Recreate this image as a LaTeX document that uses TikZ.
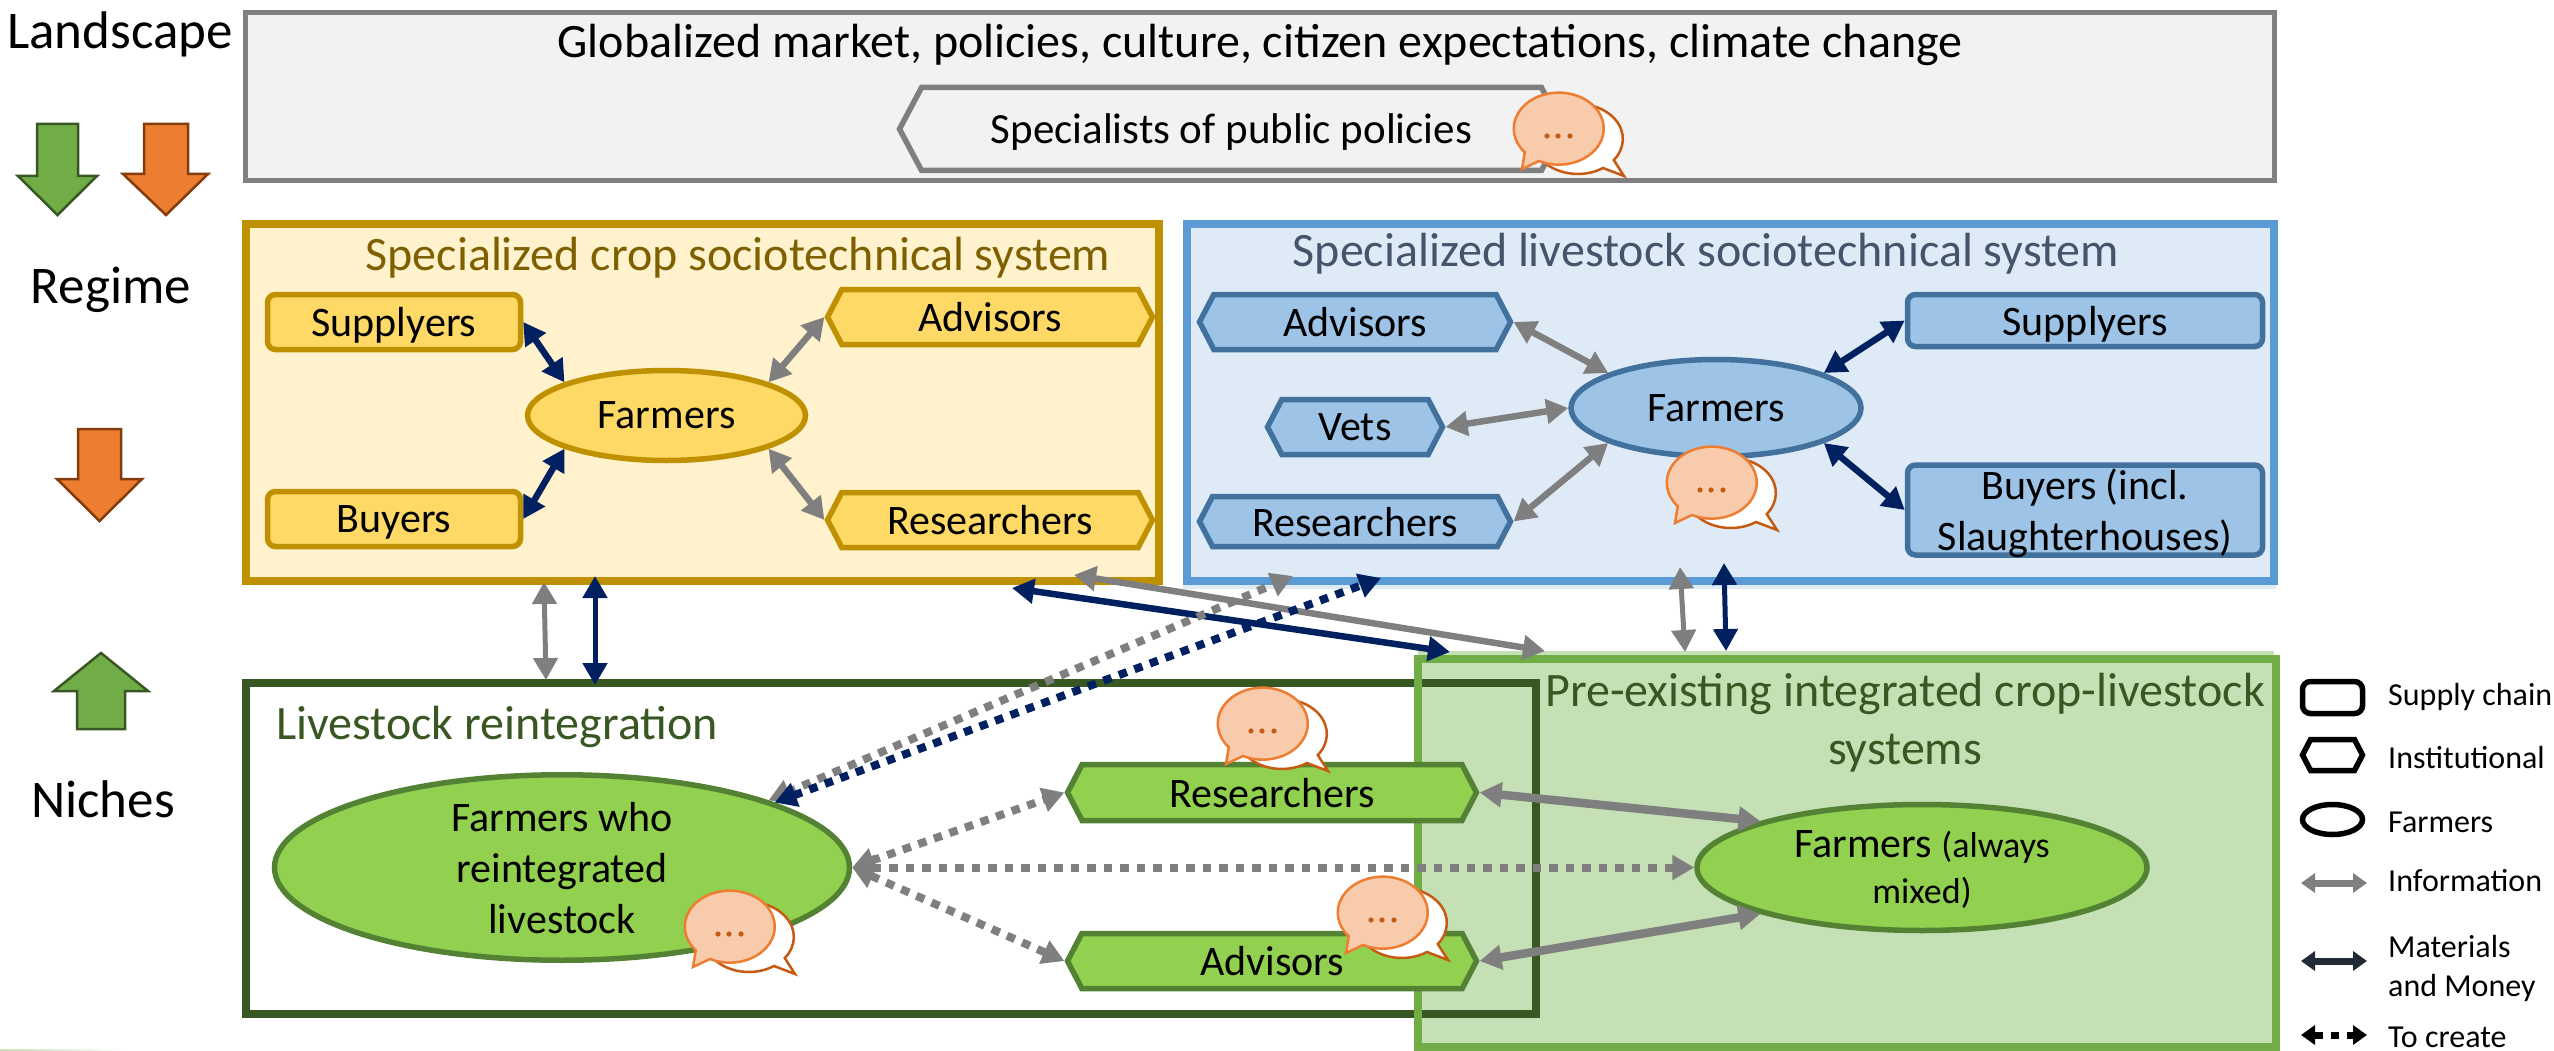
\documentclass[tikz,border=0pt]{standalone}
\usepackage{fontspec}
\setmainfont{Carlito}
\usetikzlibrary{arrows.meta,shapes.geometric,shapes.symbols}
\definecolor{cropline}{HTML}{BF9000}
\definecolor{cropfill}{HTML}{FFF2CC}
\definecolor{cropnode}{HTML}{FFD966}
\definecolor{croptext}{HTML}{7F6000}
\definecolor{liveline}{HTML}{5B9BD5}
\definecolor{livefill}{HTML}{DEEBF7}
\definecolor{livenode}{HTML}{9DC3E6}
\definecolor{livestroke}{HTML}{41719C}
\definecolor{livetext}{HTML}{44546A}
\definecolor{nicheline}{HTML}{385723}
\definecolor{nichenode}{HTML}{92D050}
\definecolor{nichestroke}{HTML}{548235}
\definecolor{preline}{HTML}{70AD47}
\definecolor{prefill}{HTML}{C5E0B4}
\definecolor{infogray}{HTML}{7F7F7F}
\definecolor{matblue}{HTML}{002060}
\definecolor{matdark}{HTML}{222A35}
\definecolor{blockorange}{HTML}{ED7D31}
\definecolor{blockorangeline}{HTML}{843C0C}
\definecolor{blockgreen}{HTML}{70AD47}
\definecolor{blockgreenline}{HTML}{385723}
\definecolor{bubblefill}{HTML}{F8CBAD}
\definecolor{bubbledark}{HTML}{C55A11}
\tikzset{
	big/.style={font=\fontsize{48}{58}\selectfont,text depth=0pt},
	mid/.style={font=\fontsize{42}{51}\selectfont,text depth=0pt},
	side/.style={font=\fontsize{53}{62}\selectfont,text depth=0pt},
	small/.style={font=\fontsize{32}{39}\selectfont,anchor=west,align=left,inner sep=0pt,text depth=0pt},
	sysbox/.style={rectangle,draw,line width=8pt,inner sep=0pt},
	chainnode/.style={rectangle,rounded corners=8pt,draw,line width=5.5pt,inner sep=0pt,mid,align=center},
	instnode/.style={signal,signal to=east and west,signal pointer angle=125,draw,line width=5.5pt,inner sep=0pt,mid},
	farmnode/.style={ellipse,draw,line width=5.5pt,inner sep=0pt,mid,align=center},
	info/.style={draw=infogray,line width=6.5pt,{Triangle[width=24pt,length=22pt]}-{Triangle[width=24pt,length=22pt]}},
	mat/.style={draw=matblue,line width=6.5pt,{Triangle[width=24pt,length=22pt]}-{Triangle[width=24pt,length=22pt]}},
	tocreate/.style={line width=8pt,dash pattern=on 8.5pt off 8pt},
	keytip/.style={line width=7pt,{Triangle[width=19pt,length=14pt]}-{Triangle[width=19pt,length=14pt]}},
	blockdown/.style={line width=2.5pt},
	chatpair/.pic={
		% back bubble, then the front one
		\draw[line width=2.5pt,draw=bubbledark,fill=white] (44,39) arc[start angle=56,end angle=397,x radius=45,y radius=35] -- (65,47) -- cycle;
		\draw[line width=2.5pt,draw=blockorange,fill=bubblefill] (-20,32) arc[start angle=116,end angle=-221,x radius=45,y radius=36] -- (-37,40) -- cycle;
		\foreach \dotx in {-12,-1,11}
			\fill[bubbledark] (\dotx,7) circle (2.6);
	}
}
\begin{document}
\begin{tikzpicture}[x=1pt,y=-1pt]
	\useasboundingbox (0,0) rectangle (2554,1051);
	\shade[left color=prefill,right color=white] (0,1049) rectangle (125,1051);

	% landscape
	\node[sysbox,line width=5pt,draw=infogray,fill=black!5,minimum width=2029pt,minimum height=168pt] (landBox) at (1259.5,97) {};
	\node[big] (landTitle) at (1260,41) {Globalized market, policies, culture, citizen expectations, climate change};
	\node[instnode,draw=infogray,fill=black!5,minimum width=664pt,minimum height=83pt,signal pointer angle=124,font=\fontsize{43}{52}\selectfont] (specHex) at (1231.5,129) {Specialists of public policies};

	% left column
	\node[side] (landLabel) at (120,30) {Landscape};
	\node[side] (regLabel) at (111,285) {Regime};
	\node[side] (nicheLabel) at (103,799) {Niches};
	\draw[blockdown,draw=blockgreenline,fill=blockgreen] (37,124) -- (78,124) -- (78,176) -- (97,176) -- (57.5,215) -- (18,176) -- (37,176) -- cycle;
	\draw[blockdown,draw=blockorangeline,fill=blockorange] (144,124) -- (188,124) -- (188,174) -- (208,174) -- (166,215) -- (123,174) -- (144,174) -- cycle;
	\draw[blockdown,draw=blockorangeline,fill=blockorange] (78,429) -- (121,429) -- (121,479) -- (142,479) -- (99.5,521) -- (57,479) -- (78,479) -- cycle;
	\draw[blockdown,draw=blockgreenline,fill=blockgreen] (77,729) -- (125,729) -- (125,691) -- (148,691) -- (101,653) -- (54,691) -- (77,691) -- cycle;

	% crop system
	\node[sysbox,draw=cropline,fill=cropfill,minimum width=913pt,minimum height=357pt] (cropBox) at (702.5,402.5) {};
	\node[big,text=croptext] (cropTitle) at (738,254) {Specialized crop sociotechnical system};
	\node[chainnode,draw=cropline,fill=cropnode,minimum width=253pt,minimum height=55pt] (cropSup) at (394,322) {Supplyers};
	\node[chainnode,draw=cropline,fill=cropnode,minimum width=253pt,minimum height=55pt] (cropBuy) at (394,519) {Buyers};
	\node[instnode,draw=cropline,fill=cropnode,minimum width=325pt,minimum height=55pt] (cropAdv) at (990,317) {Advisors};
	\node[instnode,draw=cropline,fill=cropnode,minimum width=325pt,minimum height=55pt] (cropRes) at (990,520) {Researchers};
	\node[farmnode,draw=cropline,fill=cropnode,minimum width=278pt,minimum height=90pt] (cropFarm) at (666.5,415.5) {Farmers};

	% livestock system
	\fill[livefill] (1183,585) rectangle (2276,589);
	\node[sysbox,draw=liveline,fill=livefill,minimum width=1087pt,minimum height=357pt] (liveBox) at (1730.5,402.5) {};
	\node[big,text=livetext] (liveTitle) at (1706,250) {Specialized livestock sociotechnical system};
	\node[instnode,draw=livestroke,fill=livenode,minimum width=311pt,minimum height=55pt] (liveAdv) at (1355,322) {Advisors};
	\node[instnode,draw=livestroke,fill=livenode,minimum width=175pt,minimum height=55pt] (liveVet) at (1355,427) {Vets};
	\node[instnode,draw=livestroke,fill=livenode,minimum width=311pt,minimum height=50pt] (liveRes) at (1355,521.5) {Researchers};
	\node[chainnode,draw=livestroke,fill=livenode,minimum width=355pt,minimum height=52pt] (liveSup) at (2085,320.5) {Supplyers};
	\node[chainnode,draw=livestroke,fill=livenode,minimum width=355pt,minimum height=90pt] (liveBuy) at (2085,510) {Buyers (incl.\\Slaughterhouses)};
	\node[farmnode,draw=livestroke,fill=livenode,minimum width=290pt,minimum height=97pt] (liveFarm) at (1716,408) {Farmers};

	% niches
	\fill[prefill] (1418,651) rectangle (2274,655);
	\node[sysbox,draw=preline,fill=prefill,minimum width=858pt,minimum height=388pt] (preBox) at (1847,853) {};
	\node[sysbox,draw=nicheline,minimum width=1290pt,minimum height=331pt] (reBox) at (891,848.5) {};
	\coordinate (preLeftA) at (1418,655);
	\coordinate (preLeftB) at (1418,1051);
	\draw[preline,line width=8pt] (preLeftA) -- (preLeftB);
	\node[big,text=nicheline] (reTitle) at (497,723) {Livestock reintegration};
	\node[big,text=nicheline,align=center] (preTitle) at (1905,719) {Pre-existing integrated crop-livestock\\systems};
	\node[farmnode,draw=nichestroke,fill=nichenode,minimum width=575pt,minimum height=178pt] (reFarm) at (562,867.5) {Farmers who\\reintegrated\\livestock};
	\node[instnode,draw=nichestroke,fill=nichenode,minimum width=409pt,minimum height=56pt] (nicheRes) at (1272,792.5) {Researchers};
	\node[instnode,draw=nichestroke,fill=nichenode,minimum width=409pt,minimum height=55pt] (nicheAdv) at (1272,961) {Advisors};
	\node[farmnode,draw=nichestroke,fill=nichenode,minimum width=450pt,minimum height=126pt] (preFarm) at (1922,867.5) {Farmers {\fontsize{36}{45}\selectfont(always}\\[-5pt]{\fontsize{36}{45}\selectfont mixed)}};

	% free ends on the frames
	\coordinate (cropGrayA) at (544,582);
	\coordinate (reGrayA) at (546,680);
	\coordinate (cropBlueA) at (595,576);
	\coordinate (reBlueA) at (595,685);
	\coordinate (liveGrayA) at (1680,567);
	\coordinate (preGrayA) at (1685,652);
	\coordinate (liveBlueA) at (1724,563);
	\coordinate (preBlueA) at (1726,651);
	\coordinate (cropGrayB) at (1074,575);
	\coordinate (preGrayB) at (1545,651);
	\coordinate (cropBlueB) at (1012,588);
	\coordinate (preBlueB) at (1450,652);
	\coordinate (liveGrayB) at (1293,576);
	\coordinate (liveBlueB) at (1381,578);

	% connectors
	\draw[info] (cropAdv.west) -- (cropFarm.18);
	\draw[info] (cropRes.west) -- (cropFarm.-18);
	\draw[mat] (cropSup.east) -- (cropFarm.162);
	\draw[mat] (cropBuy.east) -- (cropFarm.198);
	\draw[info] (liveAdv.east) -- (liveFarm.162);
	\draw[info] (liveVet.east) -- (liveFarm.west);
	\draw[info] (liveRes.east) -- (liveFarm.198);
	\draw[mat] (liveSup.west) -- (liveFarm.18);
	\draw[mat] (liveBuy.west) -- (liveFarm.-18);
	\draw[info,line width=5pt] (cropGrayA) -- (reGrayA);
	\draw[mat,line width=5pt] (cropBlueA) -- (reBlueA);
	\draw[info,line width=5pt] (liveGrayA) -- (preGrayA);
	\draw[mat,line width=5pt] (liveBlueA) -- (preBlueA);
	\draw[info] (cropGrayB) -- (preGrayB);
	\draw[mat] (cropBlueB) -- (preBlueB);
	\draw[info,tocreate] (reFarm.18) -- (liveGrayB);
	\draw[mat,tocreate] (reFarm.17) -- (liveBlueB);
	\draw[info,tocreate] (reFarm.east) -- (nicheRes.west);
	\draw[info,tocreate] (reFarm.east) -- (preFarm.west);
	\draw[info,tocreate] (reFarm.east) -- (nicheAdv.west);
	\draw[info,line width=8.5pt] (nicheRes.east) -- (preFarm.164);
	\draw[info,line width=8.5pt] (nicheAdv.east) -- (preFarm.196);

	% speech bubbles
	\foreach \bubx/\buby in {1559/129,1712/483,1263/724,730/927,1383/913}
		\pic at (\bubx,\buby) {chatpair};

	% legend
	\node[chainnode,draw=black,minimum width=60pt,minimum height=32pt] (keyChain) at (2332.5,697.5) {};
	\node[instnode,draw=black,minimum width=60pt,minimum height=31pt] (keyInst) at (2332.5,755) {};
	\node[farmnode,draw=black,minimum width=60pt,minimum height=30pt] (keyFarm) at (2332.5,819.5) {};
	\node[small] (keyChainText) at (2388,694) {Supply chain};
	\node[small] (keyInstText) at (2388,757) {Institutional};
	\node[small] (keyFarmText) at (2388,822) {Farmers};
	\node[small] (keyInfoText) at (2388,880) {Information};
	\node[small] (keyMatText) at (2388,966) {Materials\\and Money};
	\node[small] (keyNewText) at (2388,1037) {To create};
	\coordinate (keyInfoA) at (2301,883);
	\coordinate (keyInfoB) at (2367,883);
	\coordinate (keyMatA) at (2301,961);
	\coordinate (keyMatB) at (2367,961);
	\coordinate (keyNewA) at (2301,1035);
	\coordinate (keyNewB) at (2367,1035);
	\draw[info,keytip] (keyInfoA) -- (keyInfoB);
	\draw[mat,draw=matdark,keytip] (keyMatA) -- (keyMatB);
	\draw[info,draw=black,keytip,dash pattern=on 8.5pt off 8pt] (keyNewA) -- (keyNewB);
\end{tikzpicture}
\end{document}
